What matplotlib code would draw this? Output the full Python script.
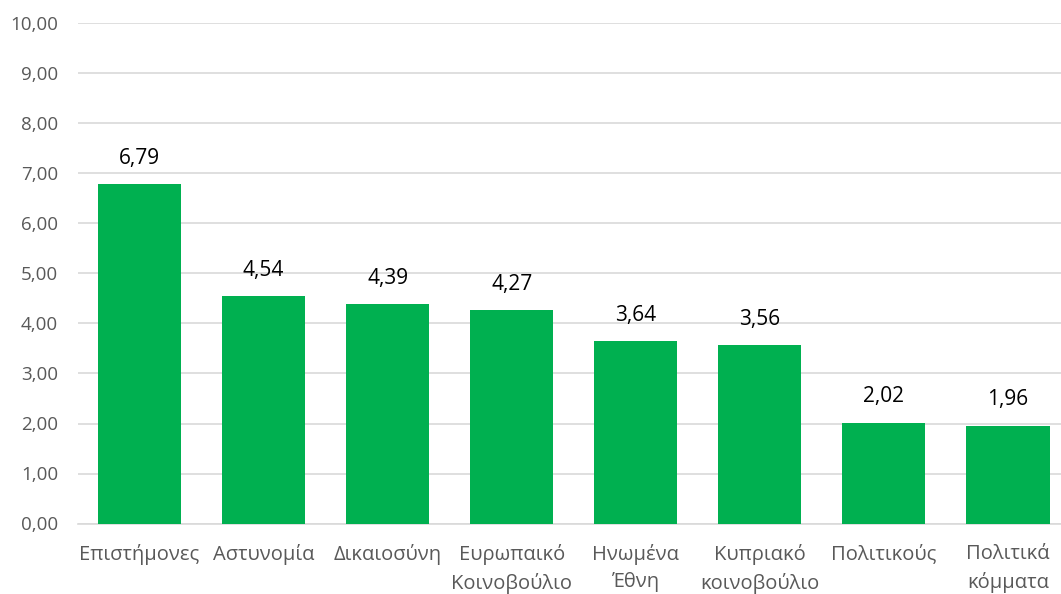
import matplotlib

matplotlib.use("Agg")
import matplotlib.pyplot as plt
import numpy as np

plt.rcParams["font.family"] = ["Open Sans", "DejaVu Sans"]

categories = ["Επιστήμονες", "Αστυνομία", "Δικαιοσύνη", "Ευρωπαικό\nΚοινοβούλιο",
              "Ηνωμένα\nΈθνη", "Κυπριακό\nκοινοβούλιο", "Πολιτικούς", "Πολιτικά\nκόμματα"]
values = [6.79, 4.54, 4.39, 4.27, 3.64, 3.56, 2.02, 1.96]
yticks = np.arange(0, 11, 1)

W, H = 1061, 594
fig = plt.figure(figsize=(W / 100, H / 100), dpi=100)
# plot area runs past the right edge, like the cropped original
ax = fig.add_axes([77.5 / W, 70.5 / H, (1070 - 77.5) / W, (523.5 - 23.5) / H])

x = np.arange(len(categories))
bars = ax.bar(x, values, width=0.67, color="#00B050", zorder=3)
for xi, v in zip(x, values):
    ax.annotate(f"{v:.2f}".replace(".", ","), (xi, v), xytext=(0, 11),
                textcoords="offset points", ha="center", va="bottom",
                fontsize=15, color="black")

ax.set_xlim(-0.5, len(categories) - 0.5)
ax.set_ylim(0, 10)
ax.set_yticks(yticks)
ax.set_yticklabels([f"{t:.2f}".replace(".", ",") for t in yticks],
                   fontsize=13.5, color="#595959")
ax.set_xticks(x)
ax.set_xticklabels(categories, fontsize=14.5, color="#595959", linespacing=1.45)
ax.tick_params(length=0, axis="both")
ax.tick_params(axis="y", pad=14)
ax.tick_params(axis="x", pad=15)
ax.grid(axis="y", color="#D9D9D9", linewidth=1.2, zorder=0)
for s in ["top", "right", "left"]:
    ax.spines[s].set_visible(False)
ax.spines["bottom"].set_color("#D9D9D9")
ax.spines["bottom"].set_linewidth(1.2)

fig.savefig("out.png", dpi=100)
